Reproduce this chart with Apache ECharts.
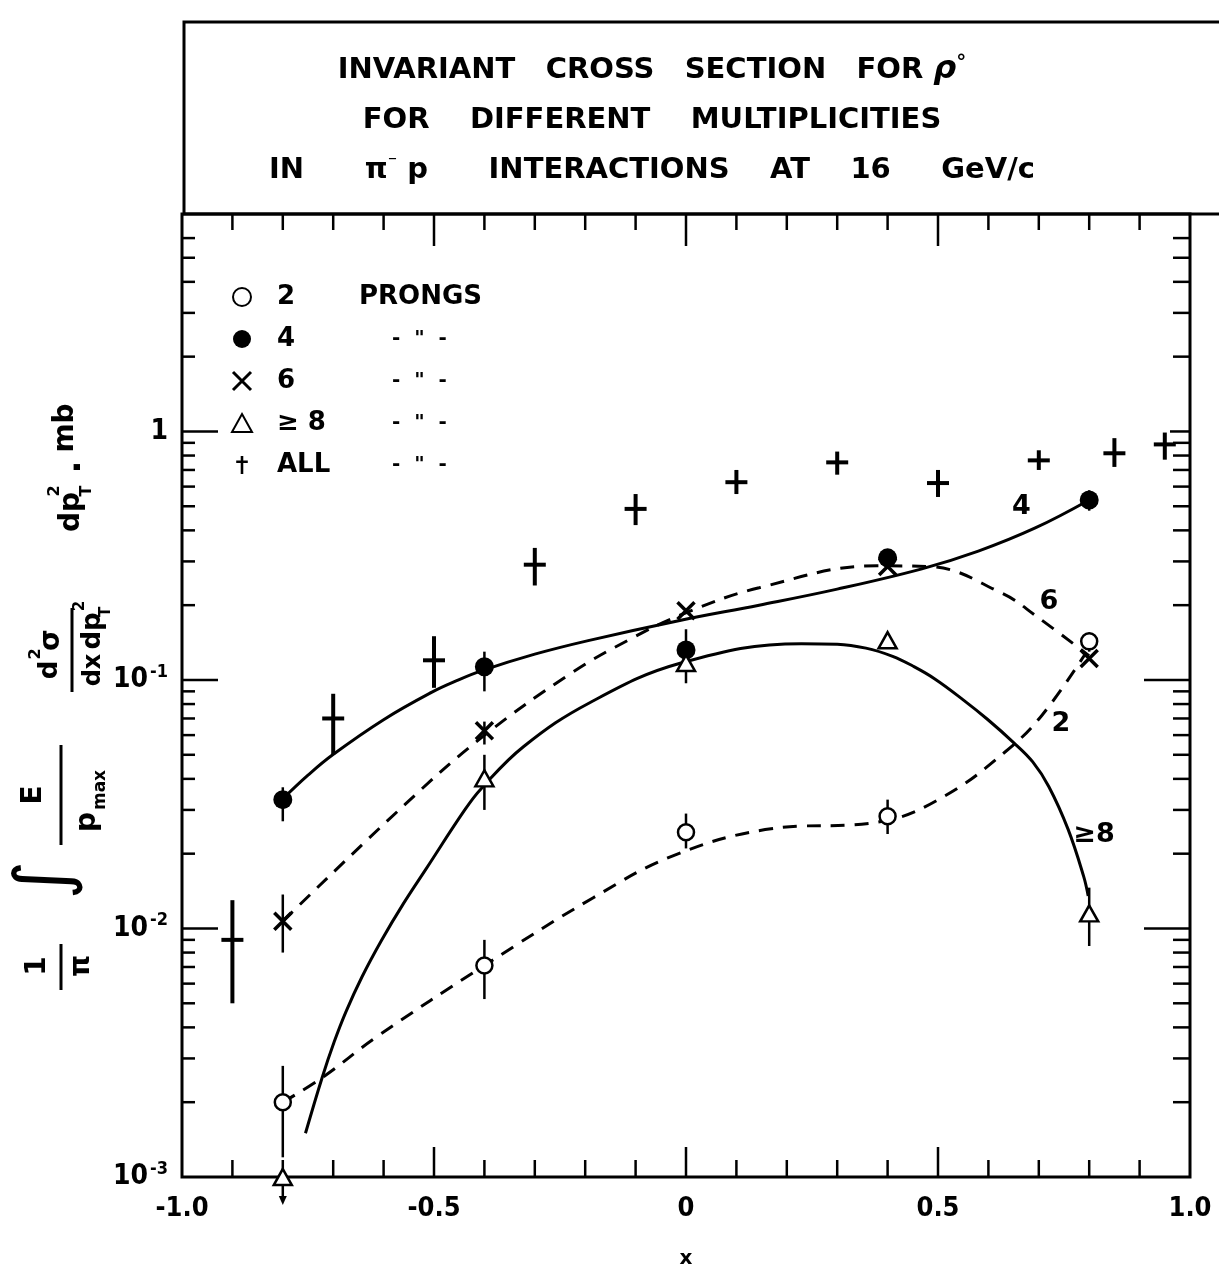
<!DOCTYPE html>
<html>
<head>
<meta charset="utf-8">
<title>Invariant cross section for rho0</title>
<script src="https://cdn.jsdelivr.net/npm/echarts@6/dist/echarts.min.js"></script>
<style>
  html, body { margin: 0; padding: 0; background: #fff; }
  #chart { width: 1219px; height: 1278px; }
</style>
</head>
<body>
<div id="chart"></div>
<script>
// ---------------- data ----------------
const xTickValues = [-1, -0.5, 0, 0.5, 1];
const xTickLabels = ['-1.0', '-0.5', '0', '0.5', '1.0'];
const yTickValues = [0.001, 0.01, 0.1, 1];
const yTickMantissa = ['10', '10', '10', '1'];
const yTickExponent = ['-3', '-2', '-1', ''];

// x bins of the multiplicity samples
const multX = [-0.8, -0.4, 0, 0.4, 0.8];
const prongs2 = [0.0020, 0.0071, 0.0244, 0.0283, 0.143];
const prongs4 = [0.033, 0.113, 0.132, 0.31, 0.53];
const prongs6 = [0.0107, 0.0625, 0.19, 0.286, 0.122];
const prongs8 = [0.001, 0.0402, 0.117, 0.1445, 0.0115];

// [low, high] of the vertical error bars (null = no bar drawn)
const prongs2Err = [[0.0012, 0.0028], [0.0052, 0.009], [0.021, 0.029], [0.024, 0.033], [0.13, 0.155]];
const prongs4Err = [[0.027, 0.037], [0.09, 0.13], [0.113, 0.16], null, [0.48, 0.58]];
const prongs6Err = [[0.008, 0.0137], [0.055, 0.068], null, null, null];
const prongs8Err = [null, [0.030, 0.050], [0.097, 0.14], null, [0.0085, 0.0146]];

// >= 8 prongs at x = -0.8 is an upper limit
const upperLimits = [[-0.8, 0.001]];

// all multiplicities together
const allX = [-0.9, -0.7, -0.5, -0.3, -0.1, 0.1, 0.3, 0.5, 0.7, 0.85, 0.95];
const allY = [0.0090, 0.070, 0.120, 0.291, 0.488, 0.625, 0.751, 0.620, 0.765, 0.817, 0.887];
const allErr = [[0.005, 0.013], [0.05, 0.088], [0.093, 0.15], [0.24, 0.34], [0.42, 0.56],
                [0.56, 0.70], [0.67, 0.83], [0.545, 0.70], [0.70, 0.84], [0.72, 0.94], [0.77, 0.99]];

// hand-drawn guide curves through the points
const curve4 = [[-0.797, 0.0337], [-0.75, 0.0414], [-0.701, 0.050], [-0.6, 0.0692], [-0.505, 0.0891],
                [-0.455, 0.0993], [-0.405, 0.109], [-0.3, 0.127], [-0.194, 0.144],
                [-0.01, 0.174], [0.145, 0.20], [0.3, 0.232], [0.468, 0.28], [0.58, 0.33],
                [0.693, 0.409], [0.8, 0.53]];
const curve6 = [[-0.8, 0.0107], [-0.558, 0.0315], [-0.404, 0.059], [-0.226, 0.107], [-0.108, 0.147],
                [-0.004, 0.185], [0.145, 0.235], [0.379, 0.288], [0.482, 0.286], [0.626, 0.224],
                [0.696, 0.180], [0.8, 0.125]];
const curve2 = [[-0.8, 0.0020], [-0.722, 0.00251], [-0.614, 0.00366], [-0.4, 0.0071], [-0.184, 0.0133],
                [-0.026, 0.0196], [0.157, 0.025], [0.39, 0.027], [0.512, 0.034], [0.633, 0.0513],
                [0.706, 0.072], [0.793, 0.128]];
const curve8 = [[-0.755, 0.0015], [-0.722, 0.00251], [-0.698, 0.0035], [-0.675, 0.00461], [-0.643, 0.00638],
                [-0.604, 0.00897], [-0.561, 0.01256], [-0.516, 0.01733], [-0.439, 0.030], [-0.406, 0.0366],
                [-0.322, 0.054], [-0.191, 0.081], [-0.01, 0.117], [0.229, 0.14], [0.3, 0.1393],
                [0.357, 0.1343], [0.41, 0.1245], [0.45, 0.1138], [0.493, 0.1012], [0.55, 0.0832],
                [0.598, 0.0695], [0.65, 0.056], [0.688, 0.0468], [0.72, 0.0372], [0.758, 0.0251],
                [0.789, 0.0162], [0.798, 0.0135]];

// ---------------- layout / style ----------------
const FONT = "'DejaVu Sans', sans-serif";
const NARROW = "'DejaVu Sans Condensed', 'DejaVu Sans', sans-serif";
const INK = '#000';
const X_MIN = -1, X_MAX = 1, Y_MIN = 0.001, Y_MAX = 7.5;
const GRID = { left: 182, right: 29, top: 214, bottom: 101 };
const CROSS_PATH = 'path://M0,0L16,16M16,0L0,16';
const DAGGER_PATH = 'path://M7,0h4v28h-4z M0,7h18v4h-18z';

const pairs = (xs, ys) => xs.map((x, i) => [x, ys[i]]);

function seg(x1, y1, x2, y2, w) {
  return { type: 'line', shape: { x1, y1, x2, y2 }, style: { stroke: INK, lineWidth: w || 2.5 } };
}

// tick marks on all four sides of the frame
const xTickData = [];
for (let i = -9; i <= 9; i++) xTickData.push([i / 10, 1, i % 5 === 0 ? 1 : 0]);
const yTickData = [];
for (let e = -3; e <= 0; e++) {
  for (let m = 1; m <= 9; m++) {
    const v = +(m * Math.pow(10, e)).toPrecision(3);
    if (v <= Y_MIN || v > 6.5) continue;
    yTickData.push([X_MIN, v, m === 1 ? 1 : 0]);
  }
}

// error bars: [x, low, high, heavy]
const errData = [];
function addErr(xs, errs, heavy) {
  errs.forEach((e, i) => { if (e) errData.push([xs[i], e[0], e[1], heavy ? 1 : 0]); });
}
addErr(multX, prongs2Err, false);
addErr(multX, prongs4Err, false);
addErr(multX, prongs6Err, false);
addErr(multX, prongs8Err, false);
addErr(allX, allErr, true);

const curveLine = (data, dashed, label, labelPoint, offset) => ({
  type: 'line', data, smooth: 0.4, showSymbol: false, silent: true, z: 2, clip: false,
  lineStyle: { color: INK, width: 3, type: dashed ? [14, 10] : 'solid' },
  markPoint: {
    silent: true, symbol: 'circle', symbolSize: 1, itemStyle: { color: 'transparent' },
    label: { show: true, position: 'inside', formatter: label, offset, fontFamily: FONT, fontWeight: 'bold',
             fontSize: 27, color: INK },
    data: [{ coord: labelPoint }]
  }
});

// y-axis title, written sideways (reading upward); helper maps screen position to group-local
const AX0 = 0, AY0 = 1000;
const at = (sx, sy) => ({ x: AY0 - sy, y: sx - AX0 });
function T(text, sx, sy, size, extra) {
  const p = at(sx, sy);
  return { type: 'text', style: Object.assign({ text, x: p.x, y: p.y, fill: INK,
    font: `bold ${size}px ${FONT}`, align: 'center', verticalAlign: 'middle' }, extra || {}) };
}
function B(sx, sy1, sy2) {
  const a = at(sx, sy1), b = at(sx, sy2);
  return { type: 'line', shape: { x1: a.x, y1: a.y, x2: b.x, y2: b.y }, style: { stroke: INK, lineWidth: 3 } };
}
const yTitle = {
  type: 'group', x: AX0, y: AY0, rotation: Math.PI / 2, silent: true,
  children: [
    T('1', 38, 966, 28), B(61, 944, 990), T('π', 82, 966, 28),
    T('∫', 48, 880, 74, { font: `${74}px ${FONT}` }),
    T('E', 34, 795, 28), B(61, 745, 845), T('p', 88, 822, 28), T('max', 101, 790, 17),
    T('d', 50, 670, 26), T('2', 36, 654, 16), T('σ', 52, 640, 28), B(72, 608, 692),
    T('dx', 94, 670, 24), T('dp', 93, 631, 26), T('T', 106, 612, 15), T('2', 80, 606, 15),
    T('dp', 72, 512, 28), T('T', 87, 491, 16), T('2', 55, 491, 16),
    T('·', 80, 467, 34),
    T('mb', 66, 428, 28)
  ]
};

const titleLines = [
  { rich: '{t|INVARIANT   CROSS   SECTION   FOR }{r|ρ}{o|°}', y: 70 },
  { rich: '{t|FOR    DIFFERENT    MULTIPLICITIES}', y: 120 },
  { rich: '{t|IN      π}{s|⁻}{t| p      INTERACTIONS    AT    16     GeV/c}', y: 170 }
];

const option = {
  animation: false,
  backgroundColor: '#fff',
  grid: Object.assign({ show: true, borderColor: INK, borderWidth: 3, backgroundColor: 'transparent', containLabel: false }, GRID),
  xAxis: {
    type: 'value', min: X_MIN, max: X_MAX, interval: 0.5,
    axisLine: { show: false }, axisTick: { show: false }, splitLine: { show: false },
    axisLabel: {
      margin: 18, color: INK, fontFamily: NARROW, fontWeight: 'bold', fontSize: 27,
      formatter: v => { const i = xTickValues.findIndex(t => Math.abs(t - v) < 1e-9); return i < 0 ? '' : xTickLabels[i]; }
    },
    name: 'x', nameLocation: 'middle', nameGap: 72,
    nameTextStyle: { color: INK, fontFamily: FONT, fontSize: 20, fontWeight: 'bold' }
  },
  yAxis: {
    type: 'log', logBase: 10, min: Y_MIN, max: Y_MAX,
    axisLine: { show: false }, axisTick: { show: false }, splitLine: { show: false }, minorTick: { show: false },
    axisLabel: {
      margin: 14, color: INK, fontFamily: NARROW,
      formatter: v => {
        const i = yTickValues.findIndex(t => Math.abs(Math.log10(t) - Math.log10(v)) < 1e-6);
        if (i < 0) return '';
        return yTickExponent[i] ? `{b|${yTickMantissa[i]}}{s|${yTickExponent[i]}}` : `{b|${yTickMantissa[i]}}`;
      },
      rich: {
        b: { fontFamily: NARROW, fontWeight: 'bold', fontSize: 28, color: INK, lineHeight: 34 },
        s: { fontFamily: NARROW, fontWeight: 'bold', fontSize: 18, color: INK, verticalAlign: 'top', lineHeight: 18, padding: [0, 0, 12, 2] }
      }
    }
  },
  legend: {
    orient: 'vertical', left: 226, top: 277, itemWidth: 20, itemHeight: 18, itemGap: 12,
    selectedMode: false,
    data: [
      { name: '2', icon: 'circle' },
      { name: '4', icon: 'circle' },
      { name: '6', icon: CROSS_PATH, itemStyle: { borderWidth: 3 } },
      { name: '≥ 8', icon: 'triangle' },
      { name: 'ALL', icon: DAGGER_PATH, itemStyle: { borderWidth: 0 } }
    ],
    formatter: name => name === '2' ? `{n|${name}}{w|PRONGS}` : `{m|${name}}{d|-  "  -}`,
    textStyle: {
      color: INK, fontFamily: FONT, fontSize: 26, lineHeight: 30,
      rich: {
        n: { fontFamily: FONT, fontWeight: 'bold', fontSize: 26, color: INK, width: 82, padding: [0, 0, 0, 20] },
        w: { fontFamily: FONT, fontWeight: 'bold', fontSize: 26, color: INK },
        m: { fontFamily: FONT, fontWeight: 'bold', fontSize: 26, color: INK, width: 115, padding: [0, 0, 0, 20] },
        d: { fontFamily: FONT, fontSize: 20, color: INK, fontWeight: 'bold' }
      }
    }
  },
  graphic: [
    { type: 'rect', silent: true, shape: { x: 184, y: 22, width: 1100, height: GRID.top - 22 },
      style: { fill: 'none', stroke: INK, lineWidth: 3 } },
    ...titleLines.map(l => ({
      type: 'text', silent: true, x: 652, y: l.y,
      style: {
        text: l.rich, align: 'center', verticalAlign: 'middle',
        rich: {
          t: { fontFamily: FONT, fontWeight: 'bold', fontSize: 29, fill: INK },
          r: { fontFamily: FONT, fontWeight: 'bold', fontSize: 32, fontStyle: 'italic', fill: INK },
          o: { fontFamily: FONT, fontWeight: 'bold', fontSize: 20, fill: INK, verticalAlign: 'top', padding: [0, 0, 14, 0] },
          s: { fontFamily: FONT, fontWeight: 'bold', fontSize: 18, fill: INK, verticalAlign: 'top', padding: [0, 0, 14, 0] }
        }
      }
    })),
    yTitle
  ],
  series: [
    curveLine(curve4, false, '4', curve4[14], [-14, -21]),
    curveLine(curve6, true, '6', curve6[10], [12, -15]),
    curveLine(curve2, true, '2', curve2[10], [19, 9]),
    curveLine(curve8, false, '≥8', curve8[24], [26, 6]),
    {
      // frame ticks along x (bottom pointing up, top pointing down)
      type: 'custom', coordinateSystem: 'cartesian2d', clip: false, silent: true, z: 3,
      data: xTickData, encode: { x: 0, y: 1 },
      renderItem: (params, api) => {
        const x = api.value(0), major = api.value(2);
        const b = api.coord([x, Y_MIN]), t = api.coord([x, Y_MAX]);
        return { type: 'group', children: [
          seg(b[0], b[1], b[0], b[1] - (major ? 30 : 17)),
          seg(t[0], t[1], t[0], t[1] + (major ? 32 : 16))
        ] };
      }
    },
    {
      // frame ticks along the log axis (left pointing right, right pointing left)
      type: 'custom', coordinateSystem: 'cartesian2d', clip: false, silent: true, z: 3,
      data: yTickData, encode: { x: 0, y: 1 },
      renderItem: (params, api) => {
        const v = api.value(1), major = api.value(2);
        const l = api.coord([X_MIN, v]), r = api.coord([X_MAX, v]);
        const ll = major ? 36 : 13;
        const rl = major ? (v >= 1 ? 20 : 46) : 17;
        return { type: 'group', children: [ seg(l[0], l[1], l[0] + ll, l[1]), seg(r[0], r[1], r[0] - rl, r[1]) ] };
      }
    },
    {
      // vertical error bars
      type: 'custom', coordinateSystem: 'cartesian2d', clip: false, silent: true, z: 3,
      data: errData, encode: { x: 0, y: [1, 2] },
      renderItem: (params, api) => {
        const x = api.value(0);
        const a = api.coord([x, api.value(1)]), b = api.coord([x, api.value(2)]);
        return seg(a[0], a[1], b[0], b[1], api.value(3) ? 4 : 2.5);
      }
    },
    {
      // upper-limit arrow
      type: 'custom', coordinateSystem: 'cartesian2d', clip: false, silent: true, z: 3,
      data: upperLimits, encode: { x: 0, y: 1 },
      renderItem: (params, api) => {
        const p = api.coord([api.value(0), api.value(1)]);
        return { type: 'group', children: [
          seg(p[0], p[1] + 8, p[0], p[1] + 22, 2.5),
          { type: 'polygon', shape: { points: [[p[0] - 4, p[1] + 19], [p[0] + 4, p[1] + 19], [p[0], p[1] + 28]] },
            style: { fill: INK } }
        ] };
      }
    },
    {
      name: '2', type: 'scatter', data: pairs(multX, prongs2), z: 5, clip: false,
      symbol: 'circle', symbolSize: 16,
      itemStyle: { color: '#fff', borderColor: INK, borderWidth: 2.5, opacity: 1 }
    },
    {
      name: '4', type: 'scatter', data: pairs(multX, prongs4), z: 5, clip: false,
      symbol: 'circle', symbolSize: 19,
      itemStyle: { color: INK, borderColor: INK, borderWidth: 0, opacity: 1 }
    },
    {
      name: '6', type: 'scatter', data: pairs(multX, prongs6), z: 5, clip: false,
      symbol: CROSS_PATH, symbolSize: 17,
      itemStyle: { color: INK, borderColor: INK, borderWidth: 3.5, opacity: 1 }
    },
    {
      name: '≥ 8', type: 'scatter', data: pairs(multX, prongs8), z: 5, clip: false,
      symbol: 'triangle', symbolSize: [18, 16],
      itemStyle: { color: '#fff', borderColor: INK, borderWidth: 2.5, opacity: 1 }
    },
    {
      name: 'ALL', type: 'scatter', data: pairs(allX, allY), z: 5, clip: false,
      symbol: 'rect', symbolSize: [22, 4],
      itemStyle: { color: INK, borderWidth: 0, opacity: 1 }
    }
  ]
};

const chart = echarts.init(document.getElementById('chart'));
chart.setOption(option);
</script>
</body>
</html>
